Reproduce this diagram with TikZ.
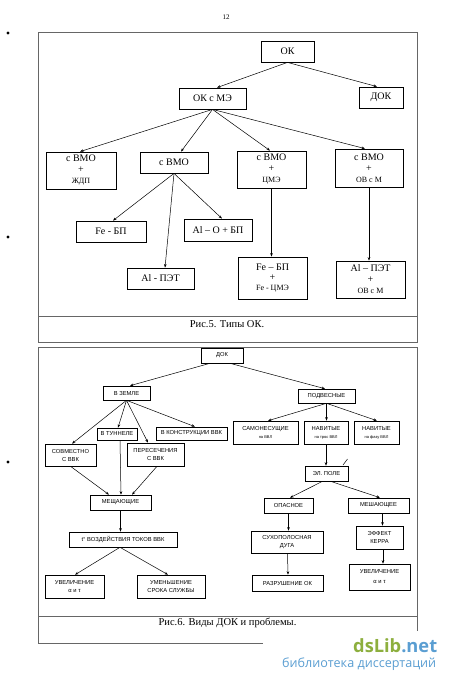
\documentclass[tikz,border=0pt]{standalone}
\usepackage{fontspec}
\setmainfont{Liberation Serif}
\setsansfont{Liberation Sans}
\newfontfamily\logofont{Open Sans}
\usetikzlibrary{arrows.meta}
\definecolor{wgreen}{HTML}{8DAF3E}
\definecolor{wblue}{HTML}{5A9ED2}
\newcommand\smtxt{\fontsize{8}{10}\selectfont}
\newcommand\tinytxt{\fontsize{4}{5}\selectfont}
\begin{document}
\begin{tikzpicture}[x=1pt,y=-1pt,
  tbox/.style={draw, line width=0.8pt, inner sep=0pt, align=center, font=\fontsize{10}{11}\selectfont},
  bbox/.style={draw, line width=0.6pt, inner sep=0pt, align=center, font=\sffamily\fontsize{5.8}{8}\selectfont},
  arr/.style={-{Stealth[length=3.5pt,width=2.6pt]}, line width=0.5pt},
  framel/.style={draw=black!60, line width=0.9pt},
  captext/.style={font=\fontsize{10.5}{12}\selectfont}]
\useasboundingbox (0,0) rectangle (450,686);
\fill[white] (0,0) rectangle (450,686);
% page number and margin dots
\node[font=\fontsize{7}{8}\selectfont] (pg) at (226,17) {12};
\fill (8,33) circle (1.6);
\fill (8,237) circle (1.6);
\fill (8,462) circle (1.6);
% frames
\draw[framel] (38,32) rectangle (417,342);
\draw[framel] (38,316) -- (417,316);
\draw[framel] (38,347) rectangle (417,643);
\draw[framel] (38,616) -- (417,616);
% ---------- Fig. 5 ----------
\node[tbox, minimum width=53pt, minimum height=21pt] (ok) at (287.5,51.5) {ОК};
\node[tbox, minimum width=44pt, minimum height=21pt] (dok) at (381,97.5) {ДОК};
\node[tbox, minimum width=67pt, minimum height=21pt] (okme) at (212.5,98.5) {ОК с МЭ};
\node[tbox, minimum width=70pt, minimum height=37pt] (a1) at (81,170.5) {с ВМО\\+\\{\smtxt ЖДП}};
\node[tbox, minimum width=68pt, minimum height=21pt] (a2) at (174,162.5) {с ВМО};
\node[tbox, minimum width=69pt, minimum height=37pt] (a3) at (271.5,169.5) {с ВМО\\+\\{\smtxt ЦМЭ}};
\node[tbox, minimum width=68pt, minimum height=38pt] (a4) at (369,168) {с ВМО\\+\\{\smtxt ОВ с М}};
\node[tbox, minimum width=70pt, minimum height=21pt] (b1) at (111,231.5) {Fe - БП};
\node[tbox, minimum width=68pt, minimum height=22pt] (b2) at (218,230) {Al – O + БП};
\node[tbox, minimum width=67pt, minimum height=21pt] (b3) at (160.5,278.5) {Al - ПЭТ};
\node[tbox, minimum width=69pt, minimum height=42pt, font=\fontsize{10}{10}\selectfont] (c1) at (272.5,278) {Fe – БП\\+\\{\smtxt Fe - ЦМЭ}};
\node[tbox, minimum width=69pt, minimum height=37pt] (c2) at (370.5,279.5) {Al – ПЭТ\\+\\{\smtxt ОВ с М}};
\draw[arr] (ok.south) -- ([xshift=4.5pt]okme.north);
\draw[arr] (ok.south) -- ([xshift=-4pt]dok.north);
\draw[arr] (okme.south) -- ([xshift=-1pt]a1.north);
\draw[arr] (okme.south) -- ([xshift=7pt]a2.north);
\draw[arr] (okme.south) -- ([xshift=-1.5pt]a3.north);
\draw[arr] (okme.south) -- ([xshift=-4pt]a4.north);
\draw[arr] (a2.south) -- ([xshift=2pt]b1.north);
\draw[arr] (a2.south) -- ([xshift=4pt]b2.north);
\draw[arr] (a2.south) -- ([xshift=4.5pt]b3.north);
\draw[arr] (a3.south) -- (a3.south |- c1.north);
\draw[arr] (a4.south) -- (a4.south |- c2.north);
\node[captext] (cap5) at (227,324.5) {Рис.5. Типы ОК.};
% ---------- Fig. 6 ----------
\node[bbox, minimum width=42pt, minimum height=15pt] (dk) at (222,355.5) {ДОК};
\node[bbox, minimum width=47pt, minimum height=14pt] (zeml) at (126.5,393) {В ЗЕМЛЕ};
\node[bbox, minimum width=57pt, minimum height=14pt] (podv) at (326.5,396) {ПОДВЕСНЫЕ};
\node[bbox, minimum width=40pt, minimum height=12pt] (tun) at (117,434) {В ТУННЕЛЕ};
\node[bbox, minimum width=71pt, minimum height=13pt] (konst) at (191.5,433.5) {В КОНСТРУКЦИИ ВВК};
\node[bbox, minimum width=51pt, minimum height=22pt] (sovm) at (70.5,455) {СОВМЕСТНО\\С ВВК};
\node[bbox, minimum width=57pt, minimum height=23pt] (per) at (155.5,454.5) {ПЕРЕСЕЧЕНИЯ\\С ВВК};
\node[bbox, minimum width=65pt, minimum height=23pt] (sam) at (265.5,432.5) {САМОНЕСУЩИЕ\\{\tinytxt на ВВЛ}};
\node[bbox, minimum width=44pt, minimum height=23pt] (nav1) at (326,432.5) {НАВИТЫЕ\\{\tinytxt на трос ВВЛ}};
\node[bbox, minimum width=45pt, minimum height=23pt] (nav2) at (376.5,432.5) {НАВИТЫЕ\\{\tinytxt на фазу ВВЛ}};
\node[bbox, minimum width=43pt, minimum height=15pt] (el) at (326.5,473.5) {ЭЛ. ПОЛЕ};
\node[bbox, minimum width=61pt, minimum height=15pt] (mesh1) at (120.5,502.5) {МЕЩАЮЩИЕ};
\node[bbox, minimum width=108pt, minimum height=15pt] (tv) at (123,539.5) {t° ВОЗДЕЙСТВИЯ ТОКОВ ВВК};
\node[bbox, minimum width=59pt, minimum height=23pt] (uv1) at (74.5,586.5) {УВЕЛИЧЕНИЕ\\α и τ};
\node[bbox, minimum width=68pt, minimum height=23pt] (um) at (171,586.5) {УМЕНЬШЕНИЕ\\СРОКА СЛУЖБЫ};
\node[bbox, minimum width=49pt, minimum height=15pt] (opas) at (288.5,505.5) {ОПАСНОЕ};
\node[bbox, minimum width=61pt, minimum height=15pt] (mesh2) at (378.5,505.5) {МЕШАЮЩЕЕ};
\node[bbox, minimum width=72pt, minimum height=22pt] (suh) at (287,542) {СУХОПОЛОСНАЯ\\ДУГА};
\node[bbox, minimum width=47pt, minimum height=23pt] (eff) at (379.5,537.5) {ЭФФЕКТ\\КЕРРА};
\node[bbox, minimum width=71pt, minimum height=16pt] (raz) at (287.5,583) {РАЗРУШЕНИЕ ОК};
\node[bbox, minimum width=61pt, minimum height=26pt, font=\sffamily\fontsize{5.8}{10}\selectfont] (uv2) at (379.5,577) {УВЕЛИЧЕНИЕ\\α и τ};
\draw[arr] ([xshift=-12pt]dk.south) -- ([xshift=3.5pt]zeml.north);
\draw[arr] ([xshift=8pt]dk.south) -- ([xshift=-1.5pt]podv.north);
\draw[arr] (zeml.south) -- ([xshift=1.5pt]sovm.north);
\draw[arr] (zeml.south) -- ([xshift=1pt]tun.north);
\draw[arr] (zeml.south) -- ([xshift=-7.5pt]per.north);
\draw[arr] (zeml.south) -- ([xshift=3.5pt]konst.north);
\draw[arr] (podv.south) -- ([xshift=2.5pt]sam.north);
\draw[arr] (podv.south) -- (podv.south |- nav1.north);
\draw[arr] (podv.south) -- ([xshift=0.5pt]nav2.north);
\draw[arr] (nav1.south) -- (nav1.south |- el.north);
\draw[arr] ([xshift=-4pt]el.south) -- ([xshift=1.5pt]opas.north);
\draw[arr] ([xshift=4pt]el.south) -- ([xshift=1.5pt]mesh2.north);
\draw[arr] (sovm.south) -- ([xshift=-11.5pt]mesh1.north);
\draw[arr] ([xshift=3pt]tun.south) -- ([xshift=0.5pt]mesh1.north);
\draw[arr] ([xshift=1.5pt]per.south) -- ([xshift=11.5pt]mesh1.north);
\draw[arr] (mesh1.south) -- (mesh1.south |- tv.north);
\draw[arr] ([xshift=-3pt]tv.south) -- ([xshift=0.5pt]uv1.north);
\draw[arr] ([xshift=-3pt]tv.south) -- ([xshift=-3pt]um.north);
\draw[arr] (opas.south) -- (opas.south |- suh.north);
\draw[arr] ([xshift=0.5pt]suh.south) -- ([xshift=0.5pt]raz.north);
\draw[arr] ([xshift=4pt]mesh2.south) -- ([xshift=4pt]mesh2.south |- eff.north);
\draw[arr] ([xshift=3.5pt]eff.south) -- ([xshift=3.5pt]eff.south |- uv2.north);
\draw[line width=0.5pt] (343,465) -- (347.5,459);
\node[captext] (cap6) at (227.5,623) {Рис.6. Виды ДОК и проблемы.};
% ---------- watermark ----------
\fill[white] (263,631) rectangle (450,686);
\node[inner sep=0pt, anchor=south west] (wm1) at (353,653) {\resizebox{84pt}{!}{\logofont\bfseries{\color{wgreen}dsLib}{\color{wblue}.net}}};
\node[inner sep=0pt, anchor=north west] (wm2) at (282,658) {\resizebox{154pt}{!}{\logofont\color{wblue}библиотека диссертаций}};
\end{tikzpicture}
\end{document}
